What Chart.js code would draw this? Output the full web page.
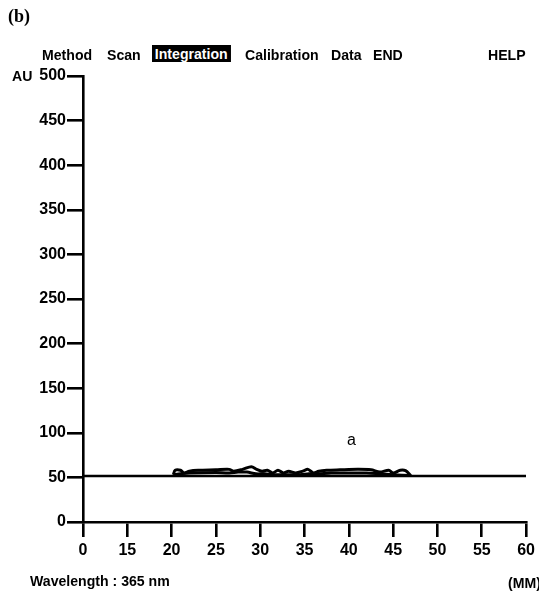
<!DOCTYPE html>
<html>
<head>
<meta charset="utf-8">
<script src="https://cdn.jsdelivr.net/npm/chart.js@4.4.0/dist/chart.umd.min.js"></script>
<style>
  body { margin: 0; background: #fff; }
  #wrap { position: relative; width: 539px; height: 592px; overflow: hidden; }
  #c { position: absolute; left: 0; top: 0; }
  .t { position: absolute; font-family: 'Liberation Sans Narrow', 'Arial Narrow', 'Liberation Sans', sans-serif; font-weight: bold; font-size: 15px; color: #000; white-space: nowrap; transform: scaleX(0.94); transform-origin: left top; }
  .hl { background: #000; color: #fff; padding: 0 3px; }
</style>
</head>
<body>
<div id="wrap">
  <canvas id="c" width="539" height="592"></canvas>
  <div class="t" style="left:8px;top:6px;font-family:'Liberation Serif',serif;font-size:18px;transform:none;">(b)</div>
  <div class="t" style="left:42px;top:46px;">Method</div>
  <div class="t" style="left:107px;top:46px;">Scan</div>
  <div class="t hl" style="left:152px;top:45px;">Integration</div>
  <div class="t" style="left:245px;top:46px;">Calibration</div>
  <div class="t" style="left:331px;top:46px;">Data</div>
  <div class="t" style="left:373px;top:46px;">END</div>
  <div class="t" style="left:488px;top:46px;">HELP</div>
  <div class="t" style="left:12px;top:67px;">AU</div>
  <div class="t" style="left:30px;top:572px;">Wavelength : 365 nm</div>
  <div class="t" style="left:508px;top:574px;">(MM)</div>
</div>
<script>
// x ticks: evenly spaced, first one is labelled 0 (broken axis)
const xTickValues = [10, 15, 20, 25, 30, 35, 40, 45, 50, 55, 60];
const xTickLabels = ['0', '15', '20', '25', '30', '35', '40', '45', '50', '55', '60'];
const yTickValues = [0, 50, 100, 150, 200, 250, 300, 350, 400, 450, 500];

// baseline across the plate
const baseX = [10, 60];
const baseY = [51.5, 51.5];

// trace a, upper and lower edge
const upperX = [20.2, 20.4, 21.0, 21.4, 22.0, 23.0, 25.0, 26.5, 27.0, 28.0, 29.0, 29.6, 30.2, 30.8, 31.4, 32.0, 32.6, 33.2, 34.0, 34.8, 35.4, 36.0, 36.6, 37.5, 39.0, 41.0, 42.5, 43.5, 44.5, 45.0, 45.8, 46.4, 47.0];
const upperY = [53, 58, 58, 55, 57, 58, 58.5, 59, 57, 59, 62, 59, 57, 58, 55, 58, 55, 57, 55, 57, 59, 55, 57, 58, 58.5, 59, 58.5, 56, 58, 55, 58, 57.5, 52];
const lowerX = [20.2, 21.0, 22.0, 25.0, 26.5, 27.5, 28.5, 29.5, 30.5, 31.5, 32.5, 33.5, 34.5, 35.5, 36.5, 38.0, 40.0, 42.0, 43.5, 45.0, 47.0];
const lowerY = [53, 54, 55, 55.5, 55, 56, 56, 54, 54, 53, 53, 53, 53, 54, 54, 55, 55, 55, 54, 53, 52];

const peakLabel = { text: 'a', x: 40.3, y: 91 };

const pts = (xs, ys) => xs.map((x, i) => ({ x: x, y: ys[i] }));

const FONT = "'Liberation Sans Narrow', 'Arial Narrow', 'Liberation Sans', sans-serif";

const labelPlugin = {
    id: 'peakLabel',
    afterDatasetsDraw(chart) {
        const ctx = chart.ctx;
        const px = chart.scales.x.getPixelForValue(peakLabel.x);
        const py = chart.scales.y.getPixelForValue(peakLabel.y);
        ctx.save();
        ctx.font = '16px ' + FONT;
        ctx.fillStyle = '#000';
        ctx.textAlign = 'center';
        ctx.textBaseline = 'middle';
        ctx.fillText(peakLabel.text, px, py);
        ctx.restore();
    }
};

const lineStyle = {
    borderColor: '#000',
    borderWidth: 3,
    pointRadius: 0,
    tension: 0.3,
    fill: false
};

new Chart(document.getElementById('c'), {
    type: 'scatter',
    data: {
        datasets: [
            Object.assign({ data: pts(baseX, baseY), showLine: true }, lineStyle, { tension: 0, borderWidth: 2.6 }),
            Object.assign({ data: pts(upperX, upperY), showLine: true }, lineStyle),
            Object.assign({ data: pts(lowerX, lowerY), showLine: true }, lineStyle)
        ]
    },
    options: {
        responsive: false,
        animation: false,
        layout: { padding: { top: 76, right: 11, left: 0, bottom: 0 } },
        plugins: { legend: { display: false }, tooltip: { enabled: false } },
        scales: {
            x: {
                type: 'linear',
                min: 10,
                max: 60,
                afterFit(scale) { scale.height = 70; },
                afterBuildTicks(scale) { scale.ticks = xTickValues.map(v => ({ value: v })); },
                border: { color: '#000', width: 2.6 },
                grid: { drawOnChartArea: false, color: '#000', lineWidth: 2.6, tickLength: 15 },
                ticks: {
                    color: '#000',
                    font: { family: FONT, size: 16, weight: 'bold' },
                    padding: 4,
                    maxRotation: 0,
                    callback: (v) => xTickLabels[xTickValues.indexOf(v)]
                }
            },
            y: {
                type: 'linear',
                min: 0,
                max: 500,
                afterFit(scale) { scale.width = 83; },
                afterBuildTicks(scale) { scale.ticks = yTickValues.map(v => ({ value: v })); },
                border: { color: '#000', width: 2.6 },
                grid: { drawOnChartArea: false, color: '#000', lineWidth: 2.6, tickLength: 16 },
                ticks: {
                    color: '#000',
                    font: { family: FONT, size: 16, weight: 'bold' },
                    padding: 1
                }
            }
        }
    },
    plugins: [labelPlugin]
});
</script>
</body>
</html>
